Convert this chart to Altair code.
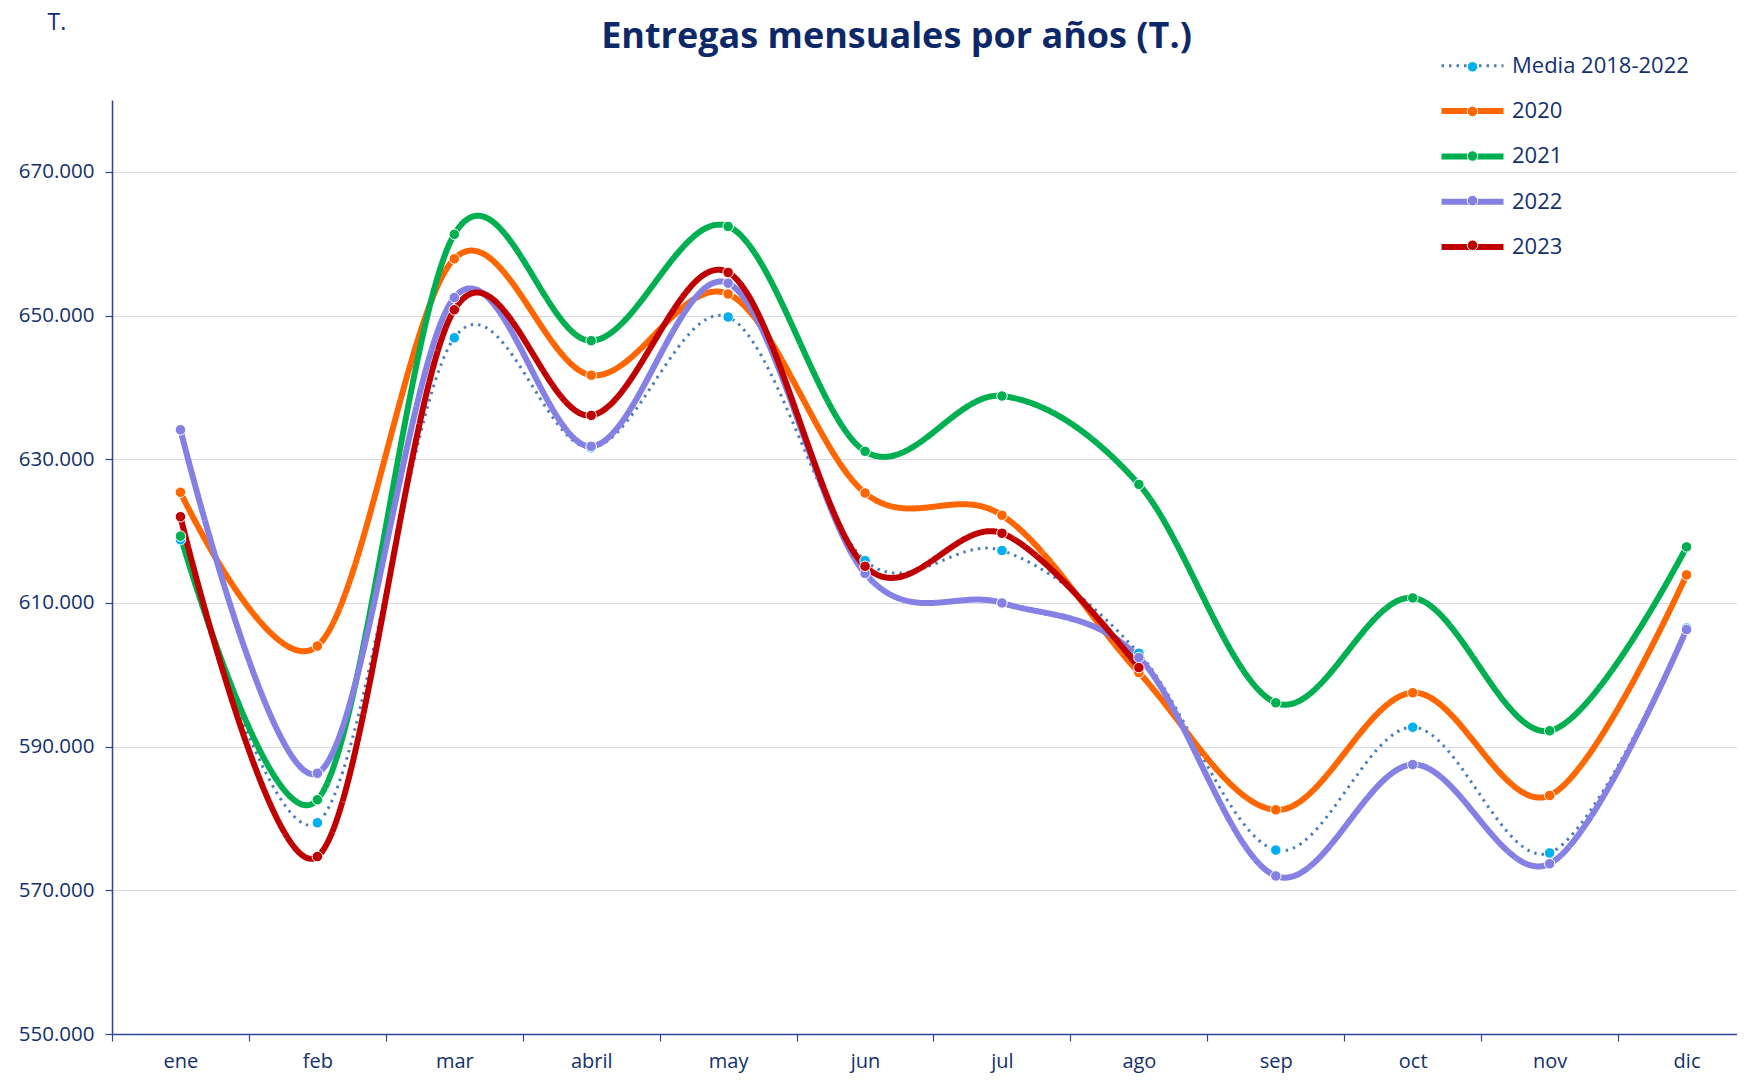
import altair as alt
import pandas as pd

meses = ["ene", "feb", "mar", "abril", "may", "jun", "jul", "ago", "sep", "oct", "nov", "dic"]
series = ["Media 2018-2022", "2020", "2021", "2022", "2023"]

media = [618800, 579400, 646900, 631600, 649800, 615900, 617300, 603000, 575600, 592700, 575200, 606500]
v2020 = [625400, 604000, 657900, 641700, 653000, 625300, 622200, 600300, 581200, 597500, 583200, 613900]
v2021 = [619300, 582600, 661300, 646500, 662400, 631100, 638800, 626500, 596100, 610700, 592200, 617800]
v2022 = [634100, 586300, 652500, 631800, 654500, 614100, 610000, 602400, 572000, 587500, 573700, 606300]
v2023 = [622000, 574700, 650800, 636100, 656000, 615100, 619700, 601000]

line_colors = ["#4a7ebb", "#ff6600", "#00b050", "#8480e4", "#c00000"]
point_colors = ["#00b0f0", "#ff6600", "#00b050", "#8480e4", "#c00000"]
dashes = [[2.5, 5], [1, 0], [1, 0], [1, 0], [1, 0]]
widths = [3, 6, 6, 6, 6]

rows = []
for s, vals in zip(series, [media, v2020, v2021, v2022, v2023]):
    for m, v in zip(meses, vals):
        rows.append({"serie": s, "mes": m, "valor": v})
df = pd.DataFrame(rows)

navy = "#13306e"
axis_col = "#2f4592"
FONT = "Open Sans"

x_enc = alt.X(
    "mes:N",
    sort=meses,
    scale=alt.Scale(type="band", domain=meses, range=[0, 1643], paddingInner=0, paddingOuter=0),
    bandPosition=0.5,
    axis=alt.Axis(
        title=None, labelAngle=0, tickBand="extent", grid=False,
        domainColor=axis_col, domainWidth=1.5, tickColor=axis_col, tickWidth=1.2, tickSize=7,
        labelPadding=10, labelFontSize=20, labelColor=navy, labelFont=FONT,
    ),
)
y_enc = alt.Y(
    "valor:Q",
    scale=alt.Scale(domain=[550000, 680000], nice=False, zero=False),
    axis=alt.Axis(
        values=[550000, 570000, 590000, 610000, 630000, 650000, 670000],
        labelExpr="replace(format(datum.value, ',.0f'), ',', '.')",
        grid=True, gridColor="#d9d9e6", gridWidth=1,
        domainColor=axis_col, domainWidth=1.5, tickColor=axis_col, tickWidth=1.2, tickSize=7,
        labelPadding=11, labelFontSize=20.5, labelColor=navy, labelFont=FONT,
        title="T.", titleAngle=0, titleX=-65, titleY=-78, titleAlign="left",
        titleBaseline="middle", titleFontWeight="normal", titleFontSize=23,
        titleColor=navy, titleFont=FONT,
    ),
)

leg_common = dict(
    title=None, orient="none", legendX=1349.5, padding=0,
    labelFontSize=22, labelFont=FONT, labelColor=navy, labelLimit=400,
)

line_legend = alt.Legend(
    symbolType="M-6.2,0H6.2", symbolSize=100, labelOffset=28.5,
    gridAlign="all", rowPadding=21.3, legendY=-45.2, **leg_common
)

lines = alt.Chart(df).mark_line(interpolate="cardinal", strokeCap="butt").encode(
    x=x_enc,
    y=y_enc,
    color=alt.Color("serie:N", scale=alt.Scale(domain=series, range=line_colors), legend=line_legend),
    strokeDash=alt.StrokeDash("serie:N", scale=alt.Scale(domain=series, range=dashes), legend=line_legend),
    strokeWidth=alt.StrokeWidth("serie:N", scale=alt.Scale(type="ordinal", domain=series, range=widths), legend=line_legend),
)

point_legend = alt.Legend(
    symbolType="circle", symbolSize=110, symbolStrokeColor="white", symbolStrokeWidth=1,
    labelOpacity=0, labelOffset=28.5, gridAlign="all", rowPadding=22.6, legendY=-44.2, **leg_common
)

points = alt.Chart(df).mark_point(filled=True, size=110, stroke="white", strokeWidth=1, opacity=1).encode(
    x=x_enc,
    y=y_enc,
    color=alt.Color("serie:N", scale=alt.Scale(domain=series, range=point_colors), legend=point_legend),
)

chart = alt.layer(lines, points).resolve_scale(
    color="independent", strokeDash="independent", strokeWidth="independent"
).properties(
    width=1625,
    height=934,
    autosize="none",
    padding={"left": 104, "top": 92, "right": 0, "bottom": 40},
    title=alt.TitleParams(
        "Entregas mensuales por años (T.)", fontSize=36, font=FONT, fontWeight="bold",
        color="#0d2868", anchor="middle", dx=-28, dy=49,
    ),
).configure_view(stroke=None)

chart.save("out.html", embed_options={"renderer": "svg", "actions": False})
